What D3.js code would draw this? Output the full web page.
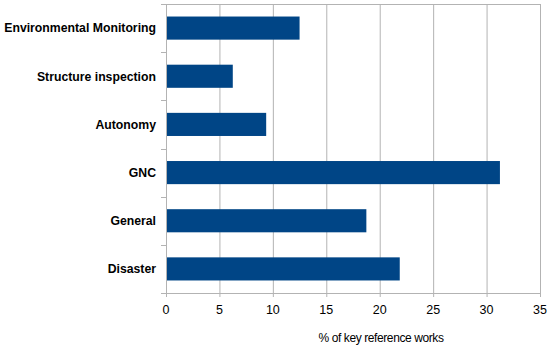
<!DOCTYPE html>
<html>
<head>
<meta charset="utf-8">
<style>
body { margin: 0; background: #fff; }
svg { display: block; }
</style>
</head>
<body>
<div id="chart"></div>
<script src="https://d3js.org/d3.v7.min.js"></script>
<script>
var categories = ["Environmental Monitoring", "Structure inspection", "Autonomy", "GNC", "General", "Disaster"];
var values = [12.5, 6.25, 9.375, 31.25, 18.75, 21.875];
var xTicks = [0, 5, 10, 15, 20, 25, 30, 35];
var xTitle = "% of key reference works";

var width = 550, height = 351;
var margin = {left: 166, right: 10, top: 4, bottom: 58};

var svg = d3.select("#chart").append("svg")
	.attr("width", width)
	.attr("height", height);

var x = d3.scaleLinear().domain([0, 35]).range([margin.left, 540]);
var y = d3.scaleBand().domain(categories).range([margin.top, height - margin.bottom]).paddingInner(0.52).paddingOuter(0.26);

var bandStep = y.step();
var plotBottom = height - margin.bottom;

// vertical grid lines
svg.append("g").selectAll("line")
	.data(xTicks.slice(1))
	.enter().append("line")
	.attr("x1", function(d) { return x(d) + 0.5; })
	.attr("x2", function(d) { return x(d) + 0.5; })
	.attr("y1", margin.top)
	.attr("y2", plotBottom + 4)
	.style("stroke", "#b3b3b3")
	.style("stroke-width", 1);

// top border line
svg.append("line")
	.attr("x1", x(0)).attr("x2", x(35) + 1)
	.attr("y1", margin.top + 0.5).attr("y2", margin.top + 0.5)
	.style("stroke", "#b3b3b3");

// bars
svg.append("g").selectAll("rect")
	.data(values)
	.enter().append("rect")
	.attr("x", x(0))
	.attr("y", function(d, i) { return y(categories[i]); })
	.attr("width", function(d) { return x(d) - x(0); })
	.attr("height", y.bandwidth())
	.style("fill", "#004586");

// y axis line + ticks at band boundaries
var yAxisG = svg.append("g");
yAxisG.append("line")
	.attr("x1", x(0) + 0.5).attr("x2", x(0) + 0.5)
	.attr("y1", margin.top).attr("y2", plotBottom)
	.style("stroke", "#b3b3b3");
var bounds = d3.range(categories.length + 1).map(function(i) { return margin.top + i * bandStep; });
yAxisG.selectAll(".yt")
	.data(bounds)
	.enter().append("line")
	.attr("x1", x(0) - 5).attr("x2", x(0))
	.attr("y1", function(d) { return Math.round(d) + 0.5; })
	.attr("y2", function(d) { return Math.round(d) + 0.5; })
	.style("stroke", "#b3b3b3");

// x axis line
svg.append("line")
	.attr("x1", x(0)).attr("x2", x(35) + 1)
	.attr("y1", plotBottom + 0.5).attr("y2", plotBottom + 0.5)
	.style("stroke", "#b3b3b3");
svg.append("line")
	.attr("x1", x(0) + 0.5).attr("x2", x(0) + 0.5)
	.attr("y1", plotBottom).attr("y2", plotBottom + 4)
	.style("stroke", "#b3b3b3");

// category labels
svg.append("g").selectAll("text")
	.data(categories)
	.enter().append("text")
	.attr("x", 156)
	.attr("y", function(d) { return y(d) + y.bandwidth() / 2; })
	.attr("dy", "0.35em")
	.attr("text-anchor", "end")
	.style("font-family", "'Liberation Sans', Arial, sans-serif")
	.style("font-weight", "bold")
	.style("font-size", "12.25px")
	.style("fill", "#000")
	.text(function(d) { return d; });

// x tick labels
svg.append("g").selectAll("text")
	.data(xTicks)
	.enter().append("text")
	.attr("x", function(d) { return x(d); })
	.attr("y", 314)
	.attr("text-anchor", "middle")
	.style("font-family", "'Liberation Sans', Arial, sans-serif")
	.style("font-size", "12.5px")
	.style("fill", "#000")
	.text(function(d) { return d; });

// x axis title
svg.append("text")
	.attr("x", 381)
	.attr("y", 342)
	.attr("text-anchor", "middle")
	.style("font-family", "'Liberation Sans Narrow', 'Liberation Sans', Arial, sans-serif")
	.style("font-size", "12px")
	.style("letter-spacing", "-0.4px")
	.style("fill", "#000")
	.text(xTitle);
</script>
</body>
</html>
